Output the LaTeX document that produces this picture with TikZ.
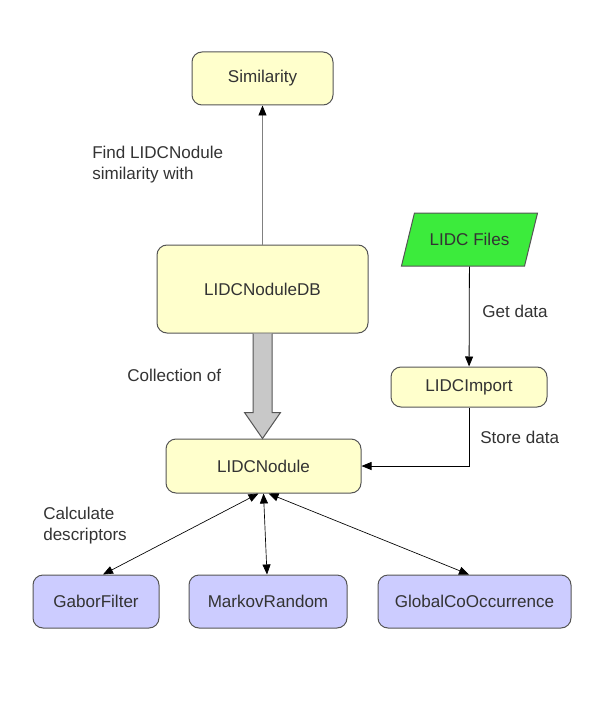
\documentclass[tikz,border=0pt]{standalone}
\usepackage{fontspec}
\setmainfont{Liberation Sans}
\usetikzlibrary{arrows.meta,calc,shapes.geometric}
\definecolor{boxyellow}{HTML}{FFFFCC}
\definecolor{boxblue}{HTML}{CCCCFF}
\definecolor{filegreen}{HTML}{3CEB3C}
\definecolor{edgegray}{HTML}{555555}
\definecolor{textgray}{HTML}{333333}
\definecolor{arrowgray}{HTML}{C8C8C8}
\begin{document}
\begin{tikzpicture}[x=0.75pt,y=-0.75pt,
    font=\fontsize{12.8}{15.75}\selectfont, text=textgray,
    block/.style={draw=edgegray, rounded corners=7.5pt, line width=0.75pt},
    yblock/.style={block, fill=boxyellow},
    bblock/.style={block, fill=boxblue},
    flow/.style={draw=black, line width=0.6pt, -{Triangle[length=7.5pt,width=6pt,color=black]}},
    dflow/.style={draw=black, line width=0.5pt, {Triangle[length=7.5pt,width=6pt]}-{Triangle[length=7.5pt,width=6pt]}},
    lab/.style={anchor=base west, inner sep=0pt}]
  \useasboundingbox (0,0) rectangle (600,706);
  % classes
  \node[yblock, minimum width=105.75pt, minimum height=39.75pt] (sim) at (262.5,78.5) {Similarity};
  \node[yblock, minimum width=158.25pt, minimum height=66pt] (db) at (262.5,289) {LIDCNoduleDB};
  \node[yblock, minimum width=146.25pt, minimum height=40.5pt] (nodule) at (263.5,466) {LIDCNodule};
  \node[yblock, minimum width=117pt, minimum height=30pt] (import) at (469,387) {LIDCImport};
  \node[draw=edgegray, fill=filegreen, line width=0.75pt, trapezium, trapezium left angle=64,
        trapezium right angle=116, trapezium stretches=true,
        minimum width=102.75pt, minimum height=39.75pt] (files) at (469.5,239.5) {LIDC Files};
  % descriptors
  \node[bblock, minimum width=94.5pt, minimum height=39.75pt] (gabor) at (96,601.5) {GaborFilter};
  \node[bblock, minimum width=118.5pt, minimum height=39.75pt] (markov) at (268,601.5) {MarkovRandom};
  \node[bblock, minimum width=144.75pt, minimum height=39.75pt] (glcm) at (474.5,601.5) {GlobalCoOccurrence};

  % connectors
  \draw[flow, draw=gray] (db) -- (sim);
  \draw[fill=arrowgray, draw=edgegray, line width=0.75pt]
    ($(db.south)+(-9.5,0)$) -- ++(0,79) -- ++(-8.5,0) -- (db.south |- nodule.north)
    -- ($(db.south)+(18,79)$) -- ++(-8.5,0) -- ($(db.south)+(9.5,0)$);
  \draw[flow] (files) -- (import);
  \draw[flow] (import.south) |- (nodule.east);
  \draw[dflow] ($(nodule.south)+(-5,0)$) -- ($(gabor.north)+(7,0)$);
  \draw[dflow] (nodule.south) -- ($(markov.north)+(-1,0)$);
  \draw[dflow] ($(nodule.south)+(5,0)$) -- ($(glcm.north)+(-5.5,0)$);

  % labels
  \node[anchor=north west, inner sep=0pt, align=left] (findlab) at (92,145.5) {Find LIDCNodule\\similarity with};
  \node[lab] (collab) at (127,381) {Collection of};
  \node[lab] (getlab) at (482,317) {Get data};
  \node[lab] (storelab) at (480,443) {Store data};
  \node[anchor=north west, inner sep=0pt, align=left] (calclab) at (43,506.5) {Calculate\\descriptors};
\end{tikzpicture}
\end{document}
